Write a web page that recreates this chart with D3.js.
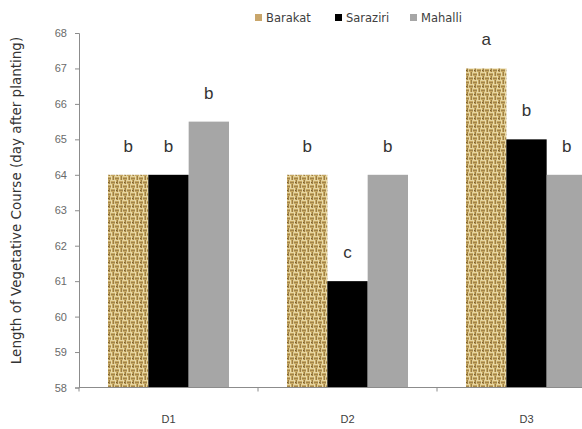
<!DOCTYPE html>
<html><head><meta charset="utf-8">
<script src="https://cdn.jsdelivr.net/npm/d3@7"></script>
<style>body{margin:0;background:#fff;} svg{display:block;}</style>
</head><body>
<svg id="c" width="582" height="429"></svg>
<script>
const categories = ["D1", "D2", "D3"];
const series = ["Barakat", "Saraziri", "Mahalli"];
const barakat = [64, 64, 67];
const saraziri = [64, 61, 65];
const mahalli = [65.5, 64, 64];
const letters = [["b","b","b"],["b","c","b"],["a","b","b"]]; // per category, per series
const yTicks = [58,59,60,61,62,63,64,65,66,67,68];
const yTitle = "Length of Vegetative Course (day after planting)";

(function(){
const values = [barakat, saraziri, mahalli];
const svg = d3.select("#c");
const W = 582, H = 429;

// basket-weave texture for Barakat
const defs = svg.append("defs");
const pat = defs.append("pattern").attr("id","burlap").attr("patternUnits","userSpaceOnUse")
  .attr("width",8).attr("height",8);
pat.append("rect").attr("width",8).attr("height",8).attr("fill","#c6a862");
// vertical-stripe blocks (top-left, bottom-right)
[[0,0],[4,4]].forEach(([bx,by]) => {
  pat.append("rect").attr("x",bx).attr("y",by).attr("width",1).attr("height",4).attr("fill","#eadbab");
  pat.append("rect").attr("x",bx+2).attr("y",by).attr("width",1).attr("height",4).attr("fill","#9c7e45");
  pat.append("rect").attr("x",bx+3).attr("y",by).attr("width",1).attr("height",4).attr("fill","#e0cc92");
});
// horizontal-stripe blocks (top-right, bottom-left)
[[4,0],[0,4]].forEach(([bx,by]) => {
  pat.append("rect").attr("x",bx).attr("y",by).attr("width",4).attr("height",1).attr("fill","#e6d5a2");
  pat.append("rect").attr("x",bx).attr("y",by+2).attr("width",4).attr("height",1).attr("fill","#a2844a");
});
pat.append("rect").attr("x",5).attr("y",6).attr("width",1).attr("height",1).attr("fill","#7a5e2c");

const colors = {"Barakat":"url(#burlap)", "Saraziri":"#000000", "Mahalli":"#a6a6a6"};
const legendColors = {"Barakat":"#c9a66b", "Saraziri":"#000000", "Mahalli":"#a6a6a6"};

const mLeft = 79, plotRight = 616, mTop = 33, mBottom = 387.5;
const y = d3.scaleLinear().domain([58, 68]).range([mBottom, mTop]);
const x0 = d3.scaleBand().domain(categories).range([mLeft, plotRight]).padding(0);
const x1 = d3.scaleBand().domain(series).range([29, 150]).padding(0);

// y axis
const yAxis = d3.axisLeft(y).tickValues(yTicks).tickSize(4).tickPadding(8).tickFormat(d3.format("d"));
const gy = svg.append("g").attr("transform",`translate(${mLeft},0)`).call(yAxis);
gy.select(".domain").attr("stroke","#8c8c8c");
gy.selectAll(".tick line").attr("stroke","#8c8c8c");
gy.selectAll(".tick text").attr("fill","#6a6a6a").style("font-family","Liberation Sans, Arial, sans-serif").style("font-size","11px");

// bars
const groups = svg.append("g").selectAll("g").data(categories).join("g")
  .attr("transform", d => `translate(${x0(d)},0)`);
groups.selectAll("rect").data((c,i) => series.map((s,j) => ({s, v: values[j][i], l: letters[i][j]})))
  .join("rect")
  .attr("x", d => x1(d.s)).attr("width", x1.bandwidth())
  .attr("y", d => y(d.v)).attr("height", d => y(58) - y(d.v))
  .attr("fill", d => colors[d.s]);
groups.selectAll("text").data((c,i) => series.map((s,j) => ({s, v: values[j][i], l: letters[i][j]})))
  .join("text")
  .attr("x", d => x1(d.s) + x1.bandwidth()/2)
  .attr("y", d => y(d.v) - 23)
  .attr("text-anchor","middle")
  .attr("fill","#333333")
  .style("font-family","Liberation Sans, Arial, sans-serif").style("font-size","17px")
  .text(d => d.l);

// x axis
const gx = svg.append("g").attr("transform",`translate(0,${mBottom})`);
gx.append("line").attr("x1", mLeft).attr("x2", W).attr("y1",0).attr("y2",0).attr("stroke","#8c8c8c");
const bounds = categories.map(c => x0(c)).concat([x0(categories[categories.length-1]) + x0.step()]);
gx.selectAll("line.t").data(bounds).join("line").attr("class","t")
  .attr("x1", d => d).attr("x2", d => d).attr("y1",0).attr("y2",4).attr("stroke","#8c8c8c");
gx.selectAll("text").data(categories).join("text")
  .attr("x", d => x0(d) + x1("Saraziri") + x1.bandwidth()/2)
  .attr("y", 35)
  .attr("text-anchor","middle").attr("fill","#404040")
  .style("font-family","Liberation Sans, Arial, sans-serif").style("font-size","11px")
  .text(d => d);

// y title
svg.append("text")
  .attr("transform", `translate(21,${(33+368)/2}) rotate(-90)`)
  .attr("text-anchor","middle").attr("fill","#333333")
  .style("font-family","DejaVu Sans, sans-serif").style("font-size","13.5px")
  .text(yTitle);

// legend
const legendX = [255, 335, 410];
const lg = svg.append("g").selectAll("g").data(series).join("g")
  .attr("transform", (d,i) => `translate(${legendX[i]},14)`);
lg.append("rect").attr("width",7).attr("height",7).attr("fill", d => legendColors[d]);
lg.append("text").attr("x",11).attr("y",7.5).attr("fill","#404040")
  .style("font-family","DejaVu Sans, sans-serif").style("font-size","11.5px").text(d => d);
})();
</script>
</body></html>
